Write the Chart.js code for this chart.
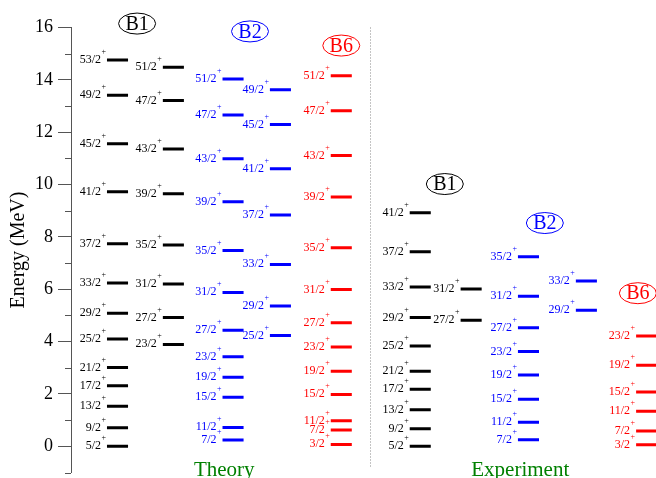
<!DOCTYPE html>
<html>
<head>
<meta charset="utf-8">
<script src="https://cdn.jsdelivr.net/npm/chart.js@4"></script>
<style>
  body { margin: 0; background: #fff; }
</style>
</head>
<body>
<canvas id="levels" width="656" height="478"></canvas>
<script>
// spins (2J numerators) and level energies in MeV, per band column
const thB1aJ = [5, 9, 13, 17, 21, 25, 29, 33, 37, 41, 45, 49, 53]
const thB1aE = [0, 0.71, 1.53, 2.31, 3.01, 4.10, 5.08, 6.24, 7.74, 9.73, 11.56, 13.41, 14.76]
const thB1bJ = [23, 27, 31, 35, 39, 43, 47, 51]
const thB1bE = [3.89, 4.92, 6.20, 7.69, 9.65, 11.36, 13.21, 14.48]
const thB2aJ = [7, 11, 15, 19, 23, 27, 31, 35, 39, 43, 47, 51]
const thB2aE = [0.24, 0.72, 1.87, 2.64, 3.42, 4.43, 5.88, 7.48, 9.34, 10.99, 12.66, 14.03]
const thB2bJ = [25, 29, 33, 37, 41, 45, 49]
const thB2bE = [4.23, 5.36, 6.95, 8.84, 10.60, 12.29, 13.62]
const thB6J = [3, 7, 11, 15, 19, 23, 27, 31, 35, 39, 43, 47, 51]
const thB6E = [0.07, 0.62, 0.98, 1.98, 2.87, 3.79, 4.72, 5.99, 7.59, 9.52, 11.11, 12.82, 14.16]

const exB1aJ = [5, 9, 13, 17, 21, 25, 29, 33, 37, 41]
const exB1aE = [0, 0.67, 1.40, 2.18, 2.87, 3.83, 4.92, 6.09, 7.43, 8.92]
const exB1bJ = [27, 31]
const exB1bE = [4.82, 6.01]
const exB2aJ = [7, 11, 15, 19, 23, 27, 31, 35]
const exB2aE = [0.25, 0.92, 1.80, 2.72, 3.62, 4.53, 5.73, 7.24]
const exB2bJ = [29, 33]
const exB2bE = [5.20, 6.32]
const exB6J = [3, 7, 11, 15, 19, 23]
const exB6E = [0.06, 0.59, 1.34, 2.08, 3.10, 4.21]

const yTicks = [0, 2, 4, 6, 8, 10, 12, 14, 16]
const groupNames = ['Theory', 'Experiment']
const bandNames = ['B1', 'B2', 'B6', 'B1', 'B2', 'B6']

// layout (x in abstract column units 0..100)
const HW = 1.8
const cols = [
  {J: thB1aJ, E: thB1aE, x: 7.95, c: '#000'},
  {J: thB1bJ, E: thB1bE, x: 17.5, c: '#000'},
  {J: thB2aJ, E: thB2aE, x: 27.7, c: '#0000ff'},
  {J: thB2bJ, E: thB2bE, x: 35.8, c: '#0000ff'},
  {J: thB6J, E: thB6E, x: 46.2, c: '#ff0000'},
  {J: exB1aJ, E: exB1aE, x: 59.7, c: '#000'},
  {J: exB1bJ, E: exB1bE, x: 68.4, c: '#000'},
  {J: exB2aJ, E: exB2aE, x: 78.2, c: '#0000ff'},
  {J: exB2bJ, E: exB2bE, x: 88.1, c: '#0000ff'},
  {J: exB6J, E: exB6E, x: 98.4, c: '#ff0000'}
]
const bandPos = [[11.3, 16.15], [30.6, 15.85], [46.2, 15.31], [63.9, 10.02], [81.0, 8.53], [96.9, 5.85]]
const bandCol = ['#000', '#0000ff', '#ff0000', '#000', '#0000ff', '#ff0000']
const groupX = [26.2, 76.8]
const sepX = 51.1

const SERIF = '"Liberation Serif", "Times New Roman", serif'

const datasets = cols.map(col => {
  const pts = []
  col.E.forEach(e => {
    pts.push({x: col.x - HW, y: e}, {x: col.x + HW, y: e}, {x: col.x, y: null})
  })
  return {data: pts, borderColor: col.c, borderWidth: 3, pointRadius: 0, spanGaps: false, clip: false}
})

const decor = {
  id: 'decor',
  afterDatasetsDraw(chart) {
    const {ctx, chartArea, scales: {x, y}} = chart
    ctx.save()
    // minor ticks
    ctx.strokeStyle = '#555'
    ctx.lineWidth = 1
    for (let v = -1; v < 16; v += 2) {
      const py = Math.round(y.getPixelForValue(v)) + 0.5
      ctx.beginPath()
      ctx.moveTo(chartArea.left - 6, py)
      ctx.lineTo(chartArea.left, py)
      ctx.stroke()
    }
    // separator
    ctx.strokeStyle = '#888'
    ctx.setLineDash([1, 2])
    const sx = Math.round(x.getPixelForValue(sepX)) + 0.5
    ctx.beginPath()
    ctx.moveTo(sx, chartArea.top)
    ctx.lineTo(sx, chartArea.bottom - 5)
    ctx.stroke()
    ctx.setLineDash([])
    // level labels
    cols.forEach(col => {
      ctx.fillStyle = col.c
      const lx = x.getPixelForValue(col.x - HW)
      col.E.forEach((e, i) => {
        const py = y.getPixelForValue(e)
        ctx.font = '12px ' + SERIF
        ctx.textAlign = 'right'
        ctx.textBaseline = 'alphabetic'
        ctx.fillText(col.J[i] + '/2', lx - 6, py + 3)
        ctx.font = '8px ' + SERIF
        ctx.textAlign = 'left'
        ctx.fillText('+', lx - 5.5, py - 6)
      })
    })
    // band ellipses
    bandPos.forEach((p, i) => {
      const cx = x.getPixelForValue(p[0]), cy = y.getPixelForValue(p[1])
      ctx.strokeStyle = bandCol[i]
      ctx.fillStyle = bandCol[i]
      ctx.lineWidth = 1
      ctx.beginPath()
      ctx.ellipse(cx, cy, 18.5, 10.5, 0, 0, Math.PI * 2)
      ctx.stroke()
      ctx.font = '20px ' + SERIF
      ctx.textAlign = 'center'
      ctx.textBaseline = 'middle'
      ctx.fillText(bandNames[i], cx, cy + 1)
    })
    // group labels
    ctx.fillStyle = '#008000'
    ctx.font = '21px ' + SERIF
    ctx.textAlign = 'center'
    ctx.textBaseline = 'alphabetic'
    groupNames.forEach((g, i) => {
      ctx.fillText(g, x.getPixelForValue(groupX[i]), chartArea.bottom + 3)
    })
    ctx.restore()
  }
}

new Chart(document.getElementById('levels'), {
  type: 'line',
  data: {datasets},
  options: {
    responsive: false,
    animation: false,
    layout: {padding: {top: 27.5, bottom: 5.5, left: 0, right: 0}},
    plugins: {legend: {display: false}, tooltip: {enabled: false}},
    scales: {
      x: {type: 'linear', display: false, min: 0, max: 100},
      y: {
        type: 'linear',
        min: -1,
        max: 16,
        afterBuildTicks: s => { s.ticks = yTicks.map(v => ({value: v})) },
        afterFit: s => { s.width = 71; s.paddingTop = 0; s.paddingBottom = 0 },
        border: {display: true, color: '#555', width: 1},
        grid: {drawOnChartArea: false, drawTicks: true, tickLength: 13, color: '#555'},
        ticks: {color: '#000', padding: 5, font: {family: SERIF, size: 18}},
        title: {display: true, text: 'Energy (MeV)', color: '#000', padding: {top: 7, bottom: 0}, font: {family: SERIF, size: 20}}
      }
    }
  },
  plugins: [decor]
})
</script>
</body>
</html>
